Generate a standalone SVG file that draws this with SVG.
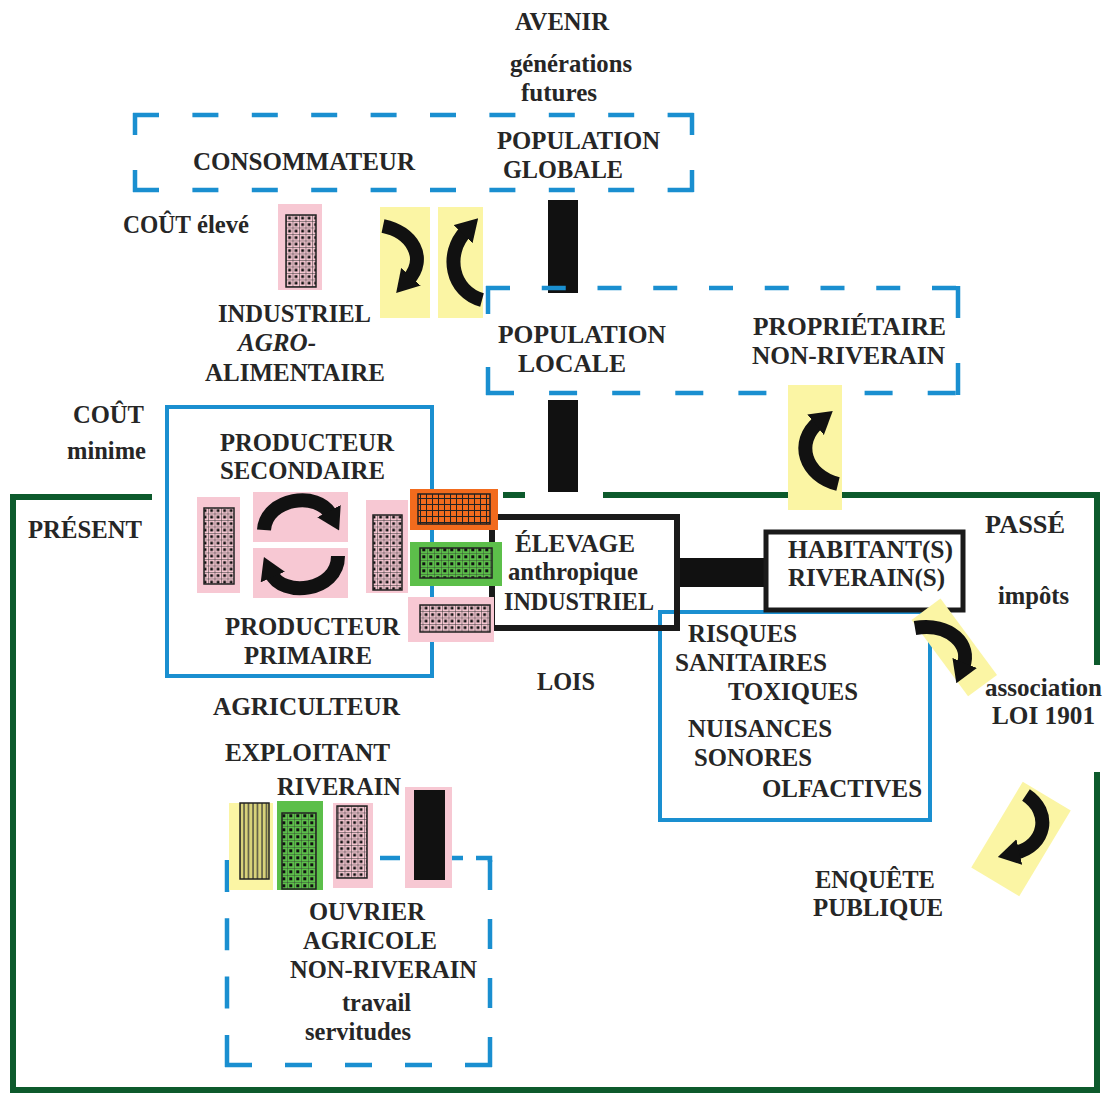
<svg xmlns="http://www.w3.org/2000/svg" width="1104" height="1098" viewBox="0 0 1104 1098">
<style>
.t{font-family:"Liberation Serif","Times New Roman",serif;font-weight:bold;fill:#262626;font-size:25px}
.bd{fill:none;stroke:#1a8fd0;stroke-width:4.5}
.bs{fill:none;stroke:#1a8fd0;stroke-width:4}
.gr{fill:none;stroke:#0d5a2c;stroke-width:6}
.bk{fill:none;stroke:#1a1a1a;stroke-width:6}
.pk{fill:#f7c8d3}
.yl{fill:#fbf5a4}
.ar{fill:none;stroke:#111;stroke-width:14;marker-end:url(#ah)}
.in{stroke:#222;stroke-width:1.5}
</style>
<defs>
<marker id="ah" viewBox="0 0 10 12" refX="2" refY="6" markerWidth="22" markerHeight="27" markerUnits="userSpaceOnUse" orient="auto">
<path d="M0,0 L10,6 L0,12 z" fill="#111"/>
</marker>
<pattern id="dp" width="6.5" height="6.5" patternUnits="userSpaceOnUse">
<rect width="6.5" height="6.5" fill="#f7c8d3"/>
<path d="M0 0.3H6.5M0.3 0V6.5" stroke="#333" stroke-width="0.6"/>
<rect x="2.2" y="2.2" width="2.8" height="2.8" fill="#111"/>
</pattern>
<pattern id="dg" width="7" height="7" patternUnits="userSpaceOnUse">
<rect width="7" height="7" fill="#5cbf4a"/>
<path d="M0 0.3H7M0.3 0V7" stroke="#333" stroke-width="0.5"/>
<rect x="2.3" y="2.3" width="3" height="3" fill="#111"/>
</pattern>
<pattern id="og" width="6" height="6" patternUnits="userSpaceOnUse">
<rect width="6" height="6" fill="#f26b1d"/>
<path d="M0 0.5H6M0.5 0V6" stroke="#222" stroke-width="1"/>
</pattern>
<pattern id="vl" width="4.5" height="10" patternUnits="userSpaceOnUse">
<rect width="4.5" height="10" fill="#d8d27a"/>
<path d="M1 0V10" stroke="#333" stroke-width="1.2"/>
</pattern>
</defs>

<g id="connectors">
<g id="frame-present">
<path class="gr" d="M152,497 H13 V1090 H1097 V772"/>
<path class="gr" d="M503,495 H525"/>
<path class="gr" d="M603,495 H1097 V665"/>
</g>
<rect x="548" y="200" width="30" height="93" fill="#111"/>
<rect x="548" y="400" width="30" height="92" fill="#111"/>
<rect x="676" y="558" width="90" height="29" fill="#111"/>
</g>

<g id="box-consommateur">
<line class="bd" x1="133" y1="115" x2="694" y2="115" stroke-dasharray="26 33.4"/>
<line class="bd" x1="133" y1="190" x2="694" y2="190" stroke-dasharray="26 33.4"/>
<line class="bd" x1="135" y1="113" x2="135" y2="192" stroke-dasharray="22 35"/>
<line class="bd" x1="692" y1="113" x2="692" y2="192" stroke-dasharray="22 35"/>
</g>

<g id="box-locale">
<line class="bd" x1="486" y1="288" x2="960" y2="288" stroke-dasharray="24 31.75"/>
<line class="bd" x1="486" y1="393" x2="960" y2="393" stroke-dasharray="28 35.1"/>
<line class="bd" x1="488" y1="286" x2="488" y2="395" stroke-dasharray="28 53"/>
<line class="bd" x1="958" y1="286" x2="958" y2="395" stroke-dasharray="32 45"/>
</g>

<g id="box-ouvrier">
<path class="bd" d="M380,858 H400 M452,858 H463 M476,858 H490 V862"/>
<line class="bd" x1="227" y1="860" x2="227" y2="1067" stroke-dasharray="32 26.3"/>
<line class="bd" x1="490" y1="860" x2="490" y2="1067" stroke-dasharray="30 29"/>
<line class="bd" x1="225" y1="1065" x2="492" y2="1065" stroke-dasharray="27 33"/>
</g>

<g id="box-producteur">
<rect class="bs" x="167" y="407" width="265" height="269"/>
</g>

<g id="box-risques">
<rect class="bs" x="660" y="612" width="270" height="208"/>
</g>

<g id="box-elevage">
<rect class="bk" x="492" y="517" width="185" height="111"/>
</g>

<g id="box-habitant">
<rect x="766" y="532" width="197" height="78" fill="#fff" stroke="#1a1a1a" stroke-width="5"/>
</g>

<g id="patch-industriel">
<rect class="pk" x="278" y="204" width="44" height="86"/>
<rect class="in" x="286" y="215" width="30" height="72" fill="url(#dp)"/>
</g>
<g id="arrows-top">
<rect class="yl" x="380" y="207" width="50" height="111"/>
<rect class="yl" x="438" y="207" width="45" height="111"/>
<path class="ar" d="M383,226 C412,232 428,258 408,280"/>
<path class="ar" d="M482,300 C452,292 444,254 466,231"/>
</g>
<g id="arrow-proprietaire">
<rect class="yl" x="788" y="385" width="54" height="125"/>
<path class="ar" d="M838,484 C805,476 794,442 819,422"/>
</g>
<g id="producteur-patches">
<rect class="pk" x="197" y="497" width="43" height="96"/>
<rect class="in" x="204" y="508" width="30" height="76" fill="url(#dp)"/>
<rect class="pk" x="253" y="492" width="95" height="50"/>
<rect class="pk" x="253" y="548" width="95" height="50"/>
<path class="ar" d="M264,530 C266,498 318,490 331,515"/>
<path class="ar" d="M338,556 C338,592 282,598 271,573"/>
<rect class="pk" x="366" y="500" width="42" height="93"/>
<rect class="in" x="373" y="515" width="29" height="75" fill="url(#dp)"/>
</g>
<g id="elevage-patches">
<rect x="410" y="489" width="88" height="41" fill="#f26b1d"/>
<rect class="in" x="418" y="494" width="72" height="30" fill="url(#og)"/>
<rect x="410" y="542" width="92" height="44" fill="#5cbf4a"/>
<rect class="in" x="420" y="548" width="72" height="30" fill="url(#dg)"/>
<rect class="pk" x="408" y="597" width="86" height="45"/>
<rect class="in" x="420" y="605" width="70" height="27" fill="url(#dp)"/>
</g>
<g id="arrow-association">
<rect class="yl" x="936" y="600" width="36" height="95" transform="rotate(-36.5 954 647)"/>
<path class="ar" d="M915,628 C950,622 972,645 963,667"/>
</g>
<g id="arrow-enquete">
<rect class="yl" x="993" y="789" width="56" height="100" transform="rotate(31 1021 839)"/>
<path class="ar" d="M1026,795 C1052,812 1046,846 1015,853"/>
</g>
<g id="exploitant-patches">
<rect class="yl" x="229" y="803" width="44" height="87"/>
<rect class="in" x="240" y="803" width="29" height="76" fill="url(#vl)"/>
<rect x="277" y="801" width="46" height="89" fill="#5cbf4a"/>
<rect class="in" x="282" y="813" width="34" height="76" fill="url(#dg)"/>
<rect class="pk" x="333" y="803" width="40" height="85"/>
<rect class="in" x="337" y="806" width="30" height="72" fill="url(#dp)"/>
<rect class="pk" x="405" y="787" width="47" height="101"/>
<rect x="414" y="790" width="31" height="90" fill="#111"/>
</g>

<g id="labels">
<text class="t" x="515" y="30" textLength="94" lengthAdjust="spacingAndGlyphs">AVENIR</text>
<text class="t" x="510" y="72" textLength="122" lengthAdjust="spacingAndGlyphs">générations</text>
<text class="t" x="521" y="101" textLength="76" lengthAdjust="spacingAndGlyphs">futures</text>
<text class="t" x="193" y="170" textLength="222" lengthAdjust="spacingAndGlyphs">CONSOMMATEUR</text>
<text class="t" x="497" y="149" textLength="163" lengthAdjust="spacingAndGlyphs">POPULATION</text>
<text class="t" x="503" y="178" textLength="120" lengthAdjust="spacingAndGlyphs">GLOBALE</text>
<text class="t" x="123" y="233" textLength="68" lengthAdjust="spacingAndGlyphs">COÛT</text>
<text class="t" x="197" y="233" textLength="52" lengthAdjust="spacingAndGlyphs" font-size="23">élevé</text>
<text class="t" x="218" y="322" textLength="153" lengthAdjust="spacingAndGlyphs">INDUSTRIEL</text>
<text class="t" x="238" y="351" textLength="78" lengthAdjust="spacingAndGlyphs" font-style="italic">AGRO-</text>
<text class="t" x="205" y="381" textLength="180" lengthAdjust="spacingAndGlyphs">ALIMENTAIRE</text>
<text class="t" x="498" y="343" textLength="168" lengthAdjust="spacingAndGlyphs">POPULATION</text>
<text class="t" x="518" y="372" textLength="108" lengthAdjust="spacingAndGlyphs">LOCALE</text>
<text class="t" x="753" y="335" textLength="193" lengthAdjust="spacingAndGlyphs">PROPRIÉTAIRE</text>
<text class="t" x="752" y="364" textLength="193" lengthAdjust="spacingAndGlyphs">NON-RIVERAIN</text>
<text class="t" x="73" y="423" textLength="71" lengthAdjust="spacingAndGlyphs">COÛT</text>
<text class="t" x="67" y="459" textLength="79" lengthAdjust="spacingAndGlyphs" font-size="22">minime</text>
<text class="t" x="220" y="451" textLength="174" lengthAdjust="spacingAndGlyphs">PRODUCTEUR</text>
<text class="t" x="220" y="479" textLength="165" lengthAdjust="spacingAndGlyphs">SECONDAIRE</text>
<text class="t" x="28" y="538" textLength="114" lengthAdjust="spacingAndGlyphs">PRÉSENT</text>
<text class="t" x="225" y="635" textLength="175" lengthAdjust="spacingAndGlyphs">PRODUCTEUR</text>
<text class="t" x="244" y="664" textLength="128" lengthAdjust="spacingAndGlyphs">PRIMAIRE</text>
<text class="t" x="515" y="552" textLength="120" lengthAdjust="spacingAndGlyphs">ÉLEVAGE</text>
<text class="t" x="508" y="580" textLength="130" lengthAdjust="spacingAndGlyphs">anthropique</text>
<text class="t" x="504" y="610" textLength="150" lengthAdjust="spacingAndGlyphs">INDUSTRIEL</text>
<text class="t" x="788" y="558" textLength="165" lengthAdjust="spacingAndGlyphs">HABITANT(S)</text>
<text class="t" x="788" y="586" textLength="157" lengthAdjust="spacingAndGlyphs">RIVERAIN(S)</text>
<text class="t" x="985" y="533" textLength="80" lengthAdjust="spacingAndGlyphs">PASSÉ</text>
<text class="t" x="998" y="604" textLength="71" lengthAdjust="spacingAndGlyphs">impôts</text>
<text class="t" x="537" y="690" textLength="58" lengthAdjust="spacingAndGlyphs">LOIS</text>
<text class="t" x="688" y="642" textLength="109" lengthAdjust="spacingAndGlyphs">RISQUES</text>
<text class="t" x="675" y="671" textLength="152" lengthAdjust="spacingAndGlyphs">SANITAIRES</text>
<text class="t" x="728" y="700" textLength="130" lengthAdjust="spacingAndGlyphs">TOXIQUES</text>
<text class="t" x="688" y="737" textLength="144" lengthAdjust="spacingAndGlyphs">NUISANCES</text>
<text class="t" x="694" y="766" textLength="118" lengthAdjust="spacingAndGlyphs">SONORES</text>
<text class="t" x="762" y="797" textLength="160" lengthAdjust="spacingAndGlyphs">OLFACTIVES</text>
<text class="t" x="985" y="696" textLength="117" lengthAdjust="spacingAndGlyphs">association</text>
<text class="t" x="992" y="724" textLength="103" lengthAdjust="spacingAndGlyphs">LOI 1901</text>
<text class="t" x="213" y="715" textLength="187" lengthAdjust="spacingAndGlyphs">AGRICULTEUR</text>
<text class="t" x="225" y="761" textLength="165" lengthAdjust="spacingAndGlyphs">EXPLOITANT</text>
<text class="t" x="277" y="795" textLength="124" lengthAdjust="spacingAndGlyphs">RIVERAIN</text>
<text class="t" x="815" y="888" textLength="120" lengthAdjust="spacingAndGlyphs">ENQUÊTE</text>
<text class="t" x="813" y="916" textLength="130" lengthAdjust="spacingAndGlyphs">PUBLIQUE</text>
<text class="t" x="309" y="920" textLength="116" lengthAdjust="spacingAndGlyphs">OUVRIER</text>
<text class="t" x="303" y="949" textLength="134" lengthAdjust="spacingAndGlyphs">AGRICOLE</text>
<text class="t" x="290" y="978" textLength="187" lengthAdjust="spacingAndGlyphs">NON-RIVERAIN</text>
<text class="t" x="342" y="1011" textLength="69" lengthAdjust="spacingAndGlyphs">travail</text>
<text class="t" x="305" y="1040" textLength="106" lengthAdjust="spacingAndGlyphs">servitudes</text>
</g>
</svg>
